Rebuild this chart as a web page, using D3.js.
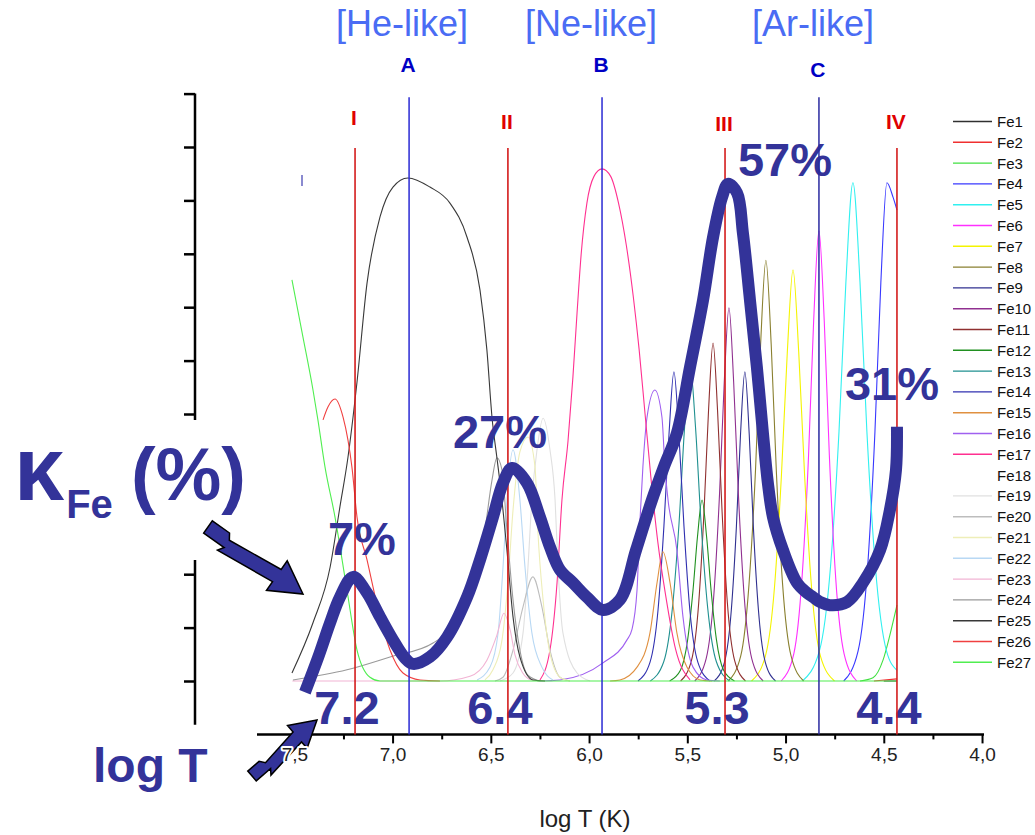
<!DOCTYPE html>
<html><head><meta charset="utf-8">
<script src="https://cdn.jsdelivr.net/npm/d3@7/dist/d3.min.js"></script>
<style>
html,body{margin:0;padding:0;background:#fff;}
svg{display:block;}
text{font-family:"Liberation Sans",Arial,Helvetica,sans-serif;}
</style></head>
<body>
<svg id="chart" width="1035" height="835"></svg>
<script>
// ---------------- data (logT, ion fraction) ----------------
const ionNames = ["Fe1","Fe2","Fe3","Fe4","Fe5","Fe6","Fe7","Fe8","Fe9","Fe10","Fe11","Fe12","Fe13","Fe14",
  "Fe15","Fe16","Fe17","Fe18","Fe19","Fe20","Fe21","Fe22","Fe23","Fe24","Fe25","Fe26","Fe27"];
const ionColors = ["#303030","#f03030","#40e040","#3838ff","#30f0f0","#ff30ff","#f4f400","#8a8030","#303090","#903090",
  "#903030","#209020","#209090","#3030b0","#e09040","#a060f0","#ff3090","#ffffff","#e0e0e0","#bdbdbd",
  "#eeeeb8","#b8d8f4","#f2b4d4","#9a9a9a","#383838","#f04040","#50ee50"];

const fe1 = [[4.50,0],[4.433,0]];
const fe2 = [[4.55,0],[4.433,0.004]];
const fe3 = [[4.621,0],[4.555,0.006],[4.504,0.039],[4.469,0.086],[4.433,0.142]];
const fe4 = [[4.704,0],[4.631,0.056],[4.582,0.215],[4.545,0.467],[4.515,0.746],[4.484,0.933],[4.453,0.906],[4.433,0.882]];
const fe5 = [[4.914,0],[4.828,0.056],[4.771,0.215],[4.728,0.467],[4.693,0.746],[4.657,0.933],[4.621,0.746],[4.586,0.467],[4.543,0.215],[4.486,0.056],[4.433,0.02]];
const fe6 = [[5.022,0],[4.958,0.051],[4.916,0.194],[4.883,0.422],[4.857,0.674],[4.830,0.843],[4.803,0.674],[4.777,0.422],[4.745,0.194],[4.702,0.051],[4.638,0]];
const fe7 = [[5.173,0],[5.103,0.046],[5.056,0.177],[5.021,0.385],[4.991,0.616],[4.962,0.770],[4.933,0.616],[4.903,0.385],[4.868,0.177],[4.822,0.046],[4.751,0]];
const fe8 = [[5.292,0],[5.228,0.047],[5.186,0.181],[5.153,0.394],[5.127,0.630],[5.100,0.788],[5.073,0.630],[5.047,0.394],[5.015,0.181],[4.972,0.047],[4.908,0]];
const fe9 = [[5.363,0],[5.311,0.035],[5.276,0.133],[5.250,0.290],[5.229,0.463],[5.207,0.579],[5.185,0.463],[5.164,0.290],[5.138,0.133],[5.103,0.035],[5.051,0]];
const fe10 = [[5.462,0],[5.404,0.042],[5.365,0.161],[5.336,0.350],[5.312,0.559],[5.288,0.699],[5.264,0.559],[5.240,0.350],[5.211,0.161],[5.172,0.042],[5.114,0]];
const fe11 = [[5.534,0],[5.479,0.038],[5.442,0.146],[5.415,0.317],[5.392,0.506],[5.369,0.633],[5.346,0.506],[5.323,0.317],[5.296,0.146],[5.259,0.038],[5.204,0]];
const fe12 = [[5.590,0],[5.535,0.020],[5.498,0.078],[5.471,0.170],[5.448,0.271],[5.425,0.339],[5.402,0.271],[5.379,0.170],[5.352,0.078],[5.315,0.020],[5.260,0]];
const fe13 = [[5.688,0],[5.620,0.036],[5.576,0.136],[5.542,0.296],[5.514,0.474],[5.486,0.592],[5.458,0.474],[5.430,0.296],[5.396,0.136],[5.352,0.036],[5.285,0]];
const fe14 = [[5.751,0],[5.690,0.035],[5.649,0.133],[5.619,0.290],[5.593,0.463],[5.568,0.579],[5.543,0.463],[5.517,0.290],[5.487,0.133],[5.446,0.035],[5.385,0]];
const fe15 = [[5.893,0],[5.843,0.002],[5.756,0.026],[5.690,0.090],[5.654,0.184],[5.624,0.242],[5.588,0.184],[5.553,0.090],[5.502,0.026],[5.435,0.002],[5.374,0]];
const fe16 = [[6.250,0],[6.148,0.002],[5.929,0.034],[5.807,0.077],[5.782,0.096],[5.756,0.170],[5.741,0.300],[5.726,0.401],[5.705,0.494],[5.665,0.545],[5.629,0.494],[5.614,0.401],[5.598,0.339],[5.553,0.245],[5.522,0.120],[5.471,0.026],[5.400,0.002],[5.334,0]];
const fe17 = [[6.250,0.002],[6.199,0.058],[6.163,0.184],[6.138,0.339],[6.107,0.450],[6.082,0.570],[6.061,0.690],[6.040,0.800],[6.011,0.895],[5.975,0.945],[5.934,0.959],[5.890,0.945],[5.850,0.895],[5.810,0.815],[5.775,0.720],[5.745,0.620],[5.715,0.500],[5.685,0.380],[5.650,0.260],[5.610,0.160],[5.560,0.060],[5.486,0.002]];
const fe18 = [[6.30,0],[6.20,0.05],[6.14,0.20],[6.10,0.35],[6.06,0.20],[6.00,0.05],[5.90,0]];
const fe19 = [[6.453,0],[6.387,0.015],[6.336,0.090],[6.311,0.213],[6.291,0.339],[6.265,0.433],[6.234,0.492],[6.199,0.433],[6.173,0.339],[6.158,0.213],[6.133,0.090],[6.061,0.015],[5.995,0]];
const fe20 = [[6.479,0],[6.438,0.007],[6.387,0.058],[6.336,0.139],[6.286,0.195],[6.240,0.139],[6.199,0.058],[6.148,0.007],[6.097,0]];
const fe21 = [[6.530,0.002],[6.489,0.021],[6.443,0.077],[6.413,0.184],[6.387,0.320],[6.352,0.429],[6.311,0.457],[6.275,0.401],[6.260,0.277],[6.234,0.152],[6.199,0.052],[6.148,0.007],[6.097,0]];
const fe22 = [[6.570,0.002],[6.504,0.026],[6.463,0.090],[6.438,0.213],[6.418,0.339],[6.387,0.433],[6.352,0.339],[6.326,0.213],[6.291,0.090],[6.240,0.026],[6.184,0.002]];
const fe23 = [[7.510,0],[6.759,0],[6.606,0.009],[6.520,0.039],[6.469,0.086],[6.433,0.127],[6.402,0.096],[6.377,0.049],[6.341,0.017],[6.291,0.002],[6.224,0]];
const fe24 = [[7.507,0.002],[7.232,0.021],[7.013,0.045],[6.794,0.071],[6.606,0.152],[6.530,0.283],[6.494,0.376],[6.469,0.418],[6.443,0.395],[6.418,0.283],[6.387,0.152],[6.352,0.058],[6.311,0.011],[6.250,0]];
const fe25 = [[7.512,0.015],[7.405,0.109],[7.318,0.213],[7.268,0.326],[7.227,0.419],[7.181,0.560],[7.130,0.745],[7.064,0.869],[6.998,0.925],[6.922,0.942],[6.810,0.925],[6.708,0.895],[6.621,0.831],[6.555,0.732],[6.520,0.620],[6.494,0.494],[6.469,0.418],[6.453,0.371],[6.418,0.245],[6.387,0.120],[6.352,0.045],[6.286,0.002],[6.224,0]];
const fe26 = [[7.354,0.489],[7.329,0.513],[7.293,0.528],[7.252,0.494],[7.227,0.451],[7.207,0.401],[7.181,0.307],[7.130,0.227],[7.064,0.120],[7.013,0.058],[6.947,0.015],[6.860,0.002],[6.759,0]];
const fe27 = [[7.512,0.751],[7.456,0.644],[7.405,0.545],[7.380,0.489],[7.344,0.401],[7.293,0.307],[7.232,0.170],[7.181,0.058],[7.115,0.007],[7.064,0],[4.433,0]];
const ionSeries = [fe1,fe2,fe3,fe4,fe5,fe6,fe7,fe8,fe9,fe10,fe11,fe12,fe13,fe14,fe15,fe16,fe17,fe18,fe19,fe20,fe21,fe22,fe23,fe24,fe25,fe26,fe27];

// hand-drawn kappa_Fe trace (logT, in axis units)
const kappaTrace = [[7.446,-0.021],[7.380,0.043],[7.318,0.109],[7.268,0.157],[7.201,0.195],[7.130,0.165],[7.064,0.120],[6.998,0.077],[6.937,0.043],[6.896,0.032],[6.810,0.045],[6.723,0.082],[6.621,0.157],[6.555,0.227],[6.489,0.307],[6.438,0.371],[6.392,0.399],[6.316,0.371],[6.250,0.307],[6.199,0.251],[6.148,0.208],[6.082,0.184],[6.011,0.157],[5.929,0.133],[5.843,0.152],[5.761,0.245],[5.680,0.339],[5.619,0.401],[5.553,0.464],[5.486,0.588],[5.420,0.713],[5.369,0.831],[5.323,0.906],[5.293,0.931],[5.247,0.914],[5.217,0.839],[5.181,0.713],[5.146,0.588],[5.115,0.464],[5.090,0.371],[5.064,0.307],[5.013,0.245],[4.942,0.184],[4.891,0.165],[4.860,0.157],[4.825,0.148],[4.774,0.142],[4.687,0.148],[4.606,0.184],[4.519,0.245],[4.469,0.320],[4.438,0.395],[4.433,0.476]];
const kappaLabels = ["7%","27%","57%","31%"];
const kappaLabelLogT = [7.329,6.693,5.242,4.698];
const kappaLabelValue = [0.236,0.436,0.946,0.526];

const markerNames = ["A","B","C"];
const markerLogT = [6.916,5.934,4.830];
const stageNames = ["I","II","III","IV"];
const stageLogT = [7.191,6.413,5.308,4.433];
const stageTempLabels = ["7.2","6.4","5.3","4.4"];
const familyLabels = ["[He-like]","[Ne-like]","[Ar-like]"];
const familyLogT = [6.952,5.990,4.860];

const xMajorTicks = [7.5,7.0,6.5,6.0,5.5,5.0,4.5,4.0];
const xMinorTicks = [7.25,6.75,6.25,5.75,5.25,4.75,4.25];
const yTicks = [0,0.1,0.2,0.3,0.4,0.5,0.6,0.7,0.8,0.9,1.0,1.1];

// ---------------- drawing ----------------
const FONT = '"Liberation Sans",Arial,Helvetica,sans-serif';
const svg = d3.select("#chart");
const x = d3.scaleLinear().domain([7.69, 3.99]).range([257, 984]);
const y = d3.scaleLinear().domain([0, 1]).range([681, 147]);
const axisY = y(-0.1);
const yAxisX = 195;

// y axis (no labels)
const gy = svg.append("g").attr("transform", `translate(${yAxisX},0)`)
  .call(d3.axisLeft(y).tickValues(yTicks).tickSize(11).tickFormat(""));
gy.select(".domain").remove();
gy.selectAll(".tick line").attr("stroke", "#000").attr("stroke-width", 2.5);
gy.append("line").attr("x1", 0).attr("x2", 0).attr("y1", y(1.1)).attr("y2", y(-0.082))
  .attr("stroke", "#000").attr("stroke-width", 2.5);
svg.append("rect").attr("x", 176).attr("y", 420).attr("width", 26).attr("height", 140).attr("fill", "#fff");

// x axis ticks and line
const fmt = d => d3.format(".1f")(d).replace(".", ",");
const gx = svg.append("g").attr("transform", `translate(0,${axisY})`)
  .call(d3.axisBottom(x).tickValues(xMajorTicks).tickSize(9).tickPadding(4).tickFormat(""));
gx.select(".domain").remove();
gx.selectAll(".tick line").attr("stroke", "#000").attr("stroke-width", 2);
const gxm = svg.append("g").attr("transform", `translate(0,${axisY})`)
  .call(d3.axisBottom(x).tickValues(xMinorTicks).tickSize(5).tickFormat(""));
gxm.select(".domain").remove();
gxm.selectAll(".tick line").attr("stroke", "#000").attr("stroke-width", 2);
svg.append("line").attr("x1", x.range()[0]).attr("x2", x.range()[1]).attr("y1", axisY).attr("y2", axisY)
  .attr("stroke", "#000").attr("stroke-width", 2.5);
svg.append("text").attr("x", 585).attr("y", 827).attr("text-anchor", "middle")
  .attr("font-size", 24).attr("fill", "#222").text("log T (K)");

// ion fraction curves
const ionLine = d3.line().x(d => x(d[0])).y(d => y(d[1])).curve(d3.curveMonotoneX);
const order = d3.range(ionSeries.length).sort((a, b) => (ionColors[a] === "#ffffff" ? -1 : 0) - (ionColors[b] === "#ffffff" ? -1 : 0));
svg.append("g").selectAll("path").data(order).join("path")
  .attr("d", i => ionLine(ionSeries[i]))
  .attr("fill", "none").attr("stroke", i => ionColors[i]).attr("stroke-width", 1.1);

// small mark
svg.append("line").attr("x1", 302).attr("x2", 302).attr("y1", 175).attr("y2", 186)
  .attr("stroke", "#8a8ad0").attr("stroke-width", 2);

// legend
const lg = svg.append("g").attr("font-family", FONT);
ionNames.forEach((n, i) => {
  const yy = 121.5 + i * 20.8;
  lg.append("line").attr("x1", 953).attr("x2", 992).attr("y1", yy).attr("y2", yy)
    .attr("stroke", ionColors[i]).attr("stroke-width", 1.4);
  lg.append("text").attr("x", 997).attr("y", yy + 5.5).attr("font-size", 15).attr("fill", "#111").text(n);
});

// annotation texts
const ann = svg.append("g").attr("font-family", FONT).attr("font-weight", "bold").attr("fill", "#333399");
kappaLabels.forEach((t, i) => {
  ann.append("text").attr("x", x(kappaLabelLogT[i])).attr("y", y(kappaLabelValue[i]))
    .attr("font-size", 47).text(t);
});
stageTempLabels.forEach((t, i) => {
  ann.append("text").attr("x", x(stageLogT[i]) - 8).attr("y", 724).attr("text-anchor", "middle")
    .attr("font-size", 47).text(t);
});
familyLabels.forEach((t, i) => {
  svg.append("text").attr("x", x(familyLogT[i])).attr("y", 36).attr("text-anchor", "middle")
    .attr("font-size", 36).attr("fill", "#4a6cf4").text(t);
});

// vertical marker lines
const markerLabelY = [72, 72, 77];
markerLogT.forEach((v, i) => {
  svg.append("line").attr("x1", x(v)).attr("x2", x(v)).attr("y1", y(1.093)).attr("y2", axisY)
    .attr("stroke", i === 2 ? "#2a2aa0" : "#2a2ad4").attr("stroke-width", 1.5);
  svg.append("text").attr("x", x(v) - 1).attr("y", markerLabelY[i]).attr("text-anchor", "middle")
    .attr("font-size", 21).attr("font-weight", "bold").attr("fill", "#0000c4").text(markerNames[i]);
});
const stageLabelY = [125, 129, 131, 129];
stageLogT.forEach((v, i) => {
  svg.append("line").attr("x1", x(v)).attr("x2", x(v)).attr("y1", y(0.998)).attr("y2", axisY)
    .attr("stroke", "#d41c1c").attr("stroke-width", 1.6);
  svg.append("text").attr("x", x(v) - 1).attr("y", stageLabelY[i]).attr("text-anchor", "middle")
    .attr("font-size", 21).attr("font-weight", "bold").attr("fill", "#e00000").text(stageNames[i]);
});

// thick kappa trace
svg.append("path").attr("d", d3.line().x(d => x(d[0])).y(d => y(d[1])).curve(d3.curveCatmullRom.alpha(0.5))(kappaTrace))
  .attr("fill", "none").attr("stroke", "#333399").attr("stroke-width", 12)
  .attr("stroke-linejoin", "round").attr("stroke-linecap", "butt");

// big labels
const kl = svg.append("text").attr("x", 14).attr("y", 500).attr("font-family", FONT)
  .attr("font-weight", "bold").attr("fill", "#333399");
kl.append("tspan").attr("font-size", 90).text("κ");
kl.append("tspan").attr("font-size", 40).attr("dy", 18).attr("dx", 2).text("Fe");
kl.append("tspan").attr("font-size", 74).attr("dy", -18).attr("dx", 18).text("(%)");
svg.append("text").attr("x", 93).attr("y", 782).attr("font-family", FONT).attr("font-weight", "bold")
  .attr("font-size", 48).attr("fill", "#333399").text("log T");

// arrows
function arrow(x0, y0, x1, y1, sw, hw, hl) {
  const L = Math.hypot(x1 - x0, y1 - y0), ux = (x1 - x0) / L, uy = (y1 - y0) / L;
  const nx = -uy, ny = ux;
  const bx = x1 - ux * hl, by = y1 - uy * hl;
  const mx = x0 + ux * (L - hl) * 0.25, my = y0 + uy * (L - hl) * 0.25;
  const pts = [
    [x0 + nx * sw / 2, y0 + ny * sw / 2],
    [mx + nx * sw / 2 + ux * 4, my + ny * sw / 2 + uy * 4],
    [mx + nx * sw * 0.9, my + ny * sw * 0.9],
    [bx + nx * sw / 2, by + ny * sw / 2],
    [bx + nx * hw / 2, by + ny * hw / 2],
    [x1, y1],
    [bx - nx * hw / 2, by - ny * hw / 2],
    [bx - nx * sw / 2, by - ny * sw / 2],
    [mx - nx * sw * 0.1 + ux * 4, my - ny * sw * 0.1 + uy * 4],
    [mx - nx * sw / 2, my - ny * sw / 2],
    [x0 - nx * sw / 2, y0 - ny * sw / 2]
  ];
  svg.append("path").attr("d", "M" + pts.map(p => p.join(",")).join("L") + "Z")
    .attr("fill", "#333399").attr("stroke", "#000").attr("stroke-width", 1.5).attr("stroke-linejoin", "miter");
}
arrow(208, 527, 303, 594, 15, 36, 32);
arrow(252, 776, 317, 720, 13, 30, 26);

// x tick labels on top (white halo keeps them readable like the original)
const gxl = svg.append("g").attr("transform", `translate(0,${axisY})`)
  .call(d3.axisBottom(x).tickValues(xMajorTicks).tickSize(9).tickPadding(4).tickFormat(fmt));
gxl.attr("font-family", FONT).attr("font-size", 19);
gxl.select(".domain").remove();
gxl.selectAll(".tick line").remove();
gxl.selectAll(".tick text").attr("fill", "#222").attr("stroke", "#fff").attr("stroke-width", 4)
  .attr("paint-order", "stroke").attr("stroke-linejoin", "round");
</script>
</body></html>
